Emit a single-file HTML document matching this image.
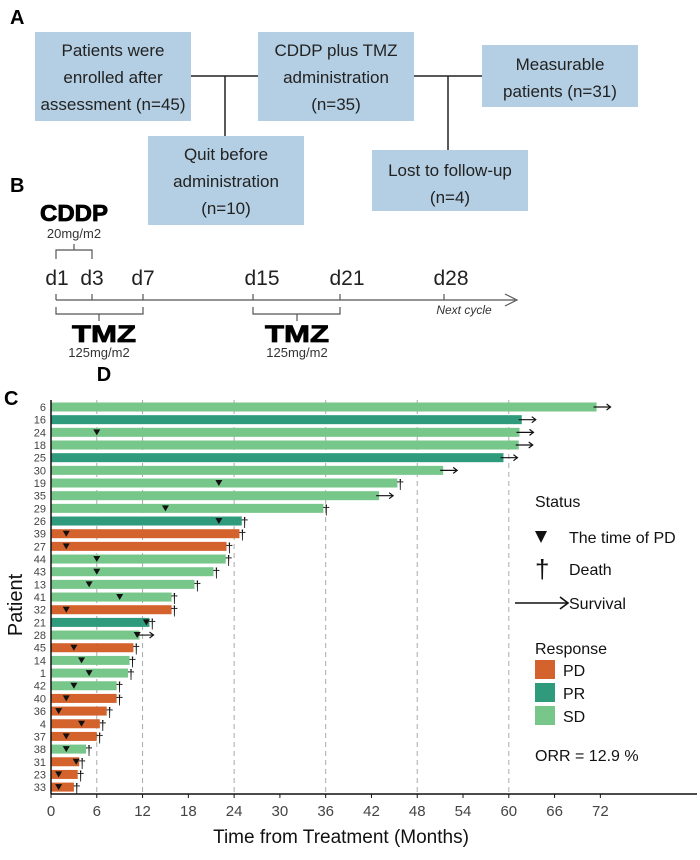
<!DOCTYPE html>
<html><head><meta charset="utf-8"><style>
body{margin:0;background:#fff;}
svg text{font-family:"Liberation Sans",Arial,sans-serif;}
</style></head><body>
<svg id="fig" width="700" height="855" viewBox="0 0 700 855" xmlns="http://www.w3.org/2000/svg">
<!-- Panel A -->
<g>
<text x="10" y="24" font-size="20" font-weight="bold">A</text>
<g stroke="#222" stroke-width="1.5" fill="none">
<line x1="191" y1="76" x2="258" y2="76"/><line x1="225" y1="76" x2="225" y2="136"/>
<line x1="414" y1="76" x2="482" y2="76"/><line x1="448" y1="76" x2="448" y2="150"/>
</g>
<g fill="#b4cfe3">
<rect x="35" y="32" width="156" height="89"/>
<rect x="148" y="136" width="156" height="89"/>
<rect x="258" y="32" width="156" height="89"/>
<rect x="372" y="150" width="156" height="61"/>
<rect x="482" y="45" width="156" height="62"/>
</g>
<g font-size="17" text-anchor="middle" fill="#222">
<text x="113" y="56">Patients were</text>
<text x="113" y="83">enrolled after</text>
<text x="113" y="110">assessment (n=45)</text>
<text x="226" y="160">Quit before</text>
<text x="226" y="187">administration</text>
<text x="226" y="214">(n=10)</text>
<text x="336" y="56">CDDP plus TMZ</text>
<text x="336" y="83">administration</text>
<text x="336" y="110">(n=35)</text>
<text x="450" y="176">Lost to follow-up</text>
<text x="450" y="203">(n=4)</text>
<text x="560" y="70">Measurable</text>
<text x="560" y="97">patients (n=31)</text>
</g>
</g>
<!-- Panel B -->
<g>
<text x="10" y="192" font-size="20" font-weight="bold">B</text>
<text x="40" y="221" font-size="23" font-weight="900" textLength="68" lengthAdjust="spacingAndGlyphs" stroke="#000" stroke-width="0.8">CDDP</text>
<text x="74" y="238" font-size="13" text-anchor="middle" fill="#333">20mg/m2</text>
<g stroke="#555" stroke-width="1.2" fill="none">
<path d="M56,259 V250 H92 V259 M74,250 V244"/>
<line x1="56" y1="300" x2="515" y2="300"/>
<path d="M505,294 L517,300 L505,306"/>
<line x1="56" y1="294" x2="56" y2="300"/><line x1="92" y1="294" x2="92" y2="300"/><line x1="143" y1="294" x2="143" y2="300"/>
<line x1="253" y1="294" x2="253" y2="300"/><line x1="340" y1="294" x2="340" y2="300"/><line x1="444" y1="294" x2="444" y2="300"/>
<path d="M56,307 V314 H143 V307 M99,314 V321"/>
<path d="M253,307 V314 H340 V307 M297,314 V321"/>
</g>
<g font-size="21" text-anchor="middle" fill="#222">
<text x="57" y="285">d1</text><text x="92" y="285">d3</text><text x="143" y="285">d7</text>
<text x="262" y="285">d15</text><text x="347" y="285">d21</text><text x="451" y="285">d28</text>
</g>
<text x="464" y="314" font-size="12" font-style="italic" text-anchor="middle" fill="#333">Next cycle</text>
<text x="72" y="342" font-size="24" font-weight="900" textLength="64" lengthAdjust="spacingAndGlyphs" stroke="#000" stroke-width="0.8">TMZ</text>
<text x="99" y="357" font-size="13" text-anchor="middle" fill="#333">125mg/m2</text>
<text x="265" y="342" font-size="24" font-weight="900" textLength="64" lengthAdjust="spacingAndGlyphs" stroke="#000" stroke-width="0.8">TMZ</text>
<text x="297" y="357" font-size="13" text-anchor="middle" fill="#333">125mg/m2</text>
<text x="104" y="381" font-size="20" font-weight="bold" text-anchor="middle">D</text>
</g>
<!-- Panel C -->
<text x="4" y="405" font-size="20" font-weight="bold">C</text>
<g id="chart"></g>
<text x="22" y="605" font-size="20" text-anchor="middle" transform="rotate(-90 22 605)" fill="#111">Patient</text>
<text x="341" y="843" font-size="19" text-anchor="middle" fill="#111">Time from Treatment (Months)</text>
<!-- legend -->
<g fill="#111">
<text x="535" y="507" font-size="16">Status</text>
<path d="M535,531 L547,531 L541,543 Z"/>
<text x="569" y="543" font-size="16">The time of PD</text>
<text x="535" y="578" font-size="26">†</text>
<text x="569" y="575" font-size="16">Death</text>
<g stroke="#111" stroke-width="1.6" fill="none"><line x1="515" y1="603" x2="567" y2="603"/><path d="M560,597 L568,603 L560,609"/></g>
<text x="569" y="609" font-size="16">Survival</text>
<text x="535" y="654" font-size="16">Response</text>
<rect x="535" y="660" width="20" height="19" fill="#d4622c"/><text x="563" y="676" font-size="16">PD</text>
<rect x="535" y="683" width="20" height="19" fill="#2f9a7c"/><text x="563" y="699" font-size="16">PR</text>
<rect x="535" y="706" width="20" height="19" fill="#77c68a"/><text x="563" y="722" font-size="16">SD</text>
<text x="535" y="761" font-size="16">ORR = 12.9 %</text>
</g>
</svg>
<script>
const patients=["6","16","24","18","25","30","19","35","29","26","39","27","44","43","13","41","32","21","28","45","14","1","42","40","36","4","37","38","31","23","33"];
const durations=[71.5,61.7,61.4,61.3,59.3,51.4,45.4,43.0,35.7,25.0,24.7,23.0,22.9,21.3,18.8,15.8,15.8,12.9,11.6,10.8,10.3,10.1,8.6,8.6,7.3,6.4,6.0,4.6,3.7,3.5,3.0];
const responses=["SD","PR","SD","SD","PR","SD","SD","SD","SD","PR","PD","PD","SD","SD","SD","SD","PD","PR","SD","PD","SD","SD","SD","PD","PD","PD","PD","SD","PD","PD","PD"];
const pdTimes=[null,null,6,null,null,null,22,null,15,22,2,2,6,6,5,9,2,12.5,11.3,3,4,5,3,2,1,4,2,2,3.3,1,1];
const outcomes=["alive","alive","alive","alive","alive","alive","death","alive","death","death","death","death","death","death","death","death","death","death","alive","death","death","death","death","death","death","death","death","death","death","death","death"];
const xTicks=[0,6,12,18,24,30,36,42,48,54,60,66,72];
const gridTicks=[6,12,24,36,48,60];
const colors={PD:"#d4622c",PR:"#2f9a7c",SD:"#77c68a"};
const NS="http://www.w3.org/2000/svg";
const X0=51,PXM=7.63,Y0=407,ROW=12.67,BH=9,AXY=794;
const xs=v=>X0+v*PXM, ys=i=>Y0+i*ROW;
const g=document.getElementById('chart');
function mk(t,a,p){const e=document.createElementNS(NS,t);for(const k in a)e.setAttribute(k,a[k]);(p||g).appendChild(e);return e;}
gridTicks.forEach(t=>{const l=mk('line',{x1:xs(t),x2:xs(t),y1:400,y2:AXY,stroke:'#aaa','stroke-dasharray':'5,4','stroke-width':1});

});
patients.forEach((p,i)=>{
 const y=ys(i);
 const lab=mk('text',{x:46,y:y+4,'font-size':11,'text-anchor':'end',fill:'#444'});lab.textContent=p;
 
 
 const b=mk('rect',{x:xs(0),y:y-BH/2,width:xs(durations[i])-xs(0),height:BH,fill:colors[responses[i]]});
 
 
 if(pdTimes[i]!=null){const cx=xs(pdTimes[i]);const m=mk('path',{d:`M${cx-3.5},${y-3} L${cx+3.5},${y-3} L${cx},${y+3} Z`,fill:'#111'});
  
  }
 const ex=xs(durations[i]);
 if(outcomes[i]==='death'){const d=mk('text',{x:ex-1,y:y+6,'font-size':14,fill:'#111'});d.textContent='†';
  
  }
 else{const a=mk('g',{stroke:'#111','stroke-width':1.2,fill:'none'});
  mk('line',{x1:ex-3,x2:ex+14,y1:y,y2:y},a);mk('path',{d:`M${ex+10},${y-3} L${ex+14},${y} L${ex+10},${y+3}`},a);
  
  }
});
const ax=mk('g',{stroke:'#111','stroke-width':1.5});
mk('line',{x1:X0,x2:X0,y1:400,y2:AXY},ax);mk('line',{x1:X0,x2:697,y1:AXY,y2:AXY},ax);


xTicks.forEach(t=>{mk('line',{x1:xs(t),x2:xs(t),y1:AXY,y2:AXY+4,stroke:'#111'});
 const tl=mk('text',{x:xs(t),y:AXY+22,'font-size':15,'text-anchor':'middle',fill:'#444'});tl.textContent=t;
 
 });
</script>
</body></html>
